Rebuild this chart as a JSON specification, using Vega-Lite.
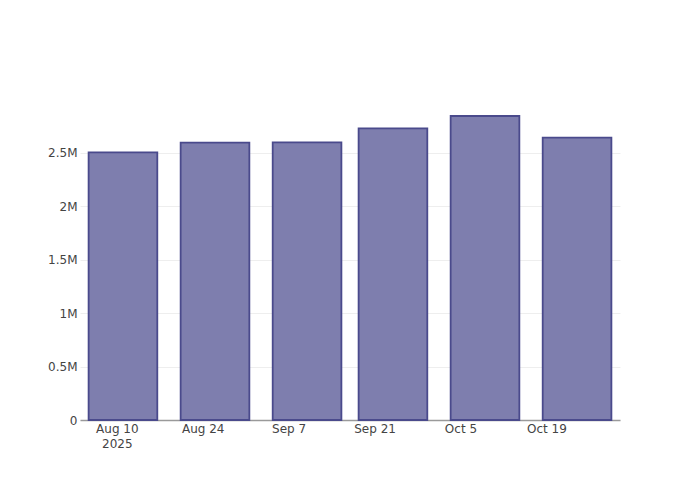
{
  "$schema": "https://vega.github.io/schema/vega-lite/v6.json",
  "width": 540,
  "height": 320,
  "autosize": {"type": "none"},
  "padding": {"left": 80, "top": 100, "right": 80, "bottom": 80},
  "background": "white",
  "config": {"view": {"stroke": null}, "font": "DejaVu Sans"},
  "data": {
    "values": [
      {"date": "2025-08-11", "value": 2506000},
      {"date": "2025-08-26", "value": 2597000},
      {"date": "2025-09-10", "value": 2600000},
      {"date": "2025-09-24", "value": 2731000},
      {"date": "2025-10-09", "value": 2846000},
      {"date": "2025-10-24", "value": 2643000}
    ]
  },
  "mark": {"type": "bar", "size": 68.7, "fill": "#7e7eae", "stroke": "#4a4a8c", "strokeWidth": 1.8},
  "encoding": {
    "x": {
      "field": "date",
      "type": "temporal",
      "scale": {
        "type": "utc",
        "padding": 0,
        "nice": false,
        "domain": [
          {"year": 2025, "month": 8, "date": 4, "utc": true},
          {"year": 2025, "month": 10, "date": 31, "utc": true}
        ]
      },
      "axis": {
        "title": null,
        "ticks": false,
        "grid": false,
        "domainColor": "#9a9a9a",
        "domainWidth": 1.5,
        "labelColor": "#444444",
        "labelFontSize": 12,
        "labelPadding": 3,
        "labelBaseline": "top",
        "labelLineHeight": 15,
        "labelFlush": false,
        "labelOverlap": false,
        "values": [
          {"year": 2025, "month": 8, "date": 10, "utc": true},
          {"year": 2025, "month": 8, "date": 24, "utc": true},
          {"year": 2025, "month": 9, "date": 7, "utc": true},
          {"year": 2025, "month": 9, "date": 21, "utc": true},
          {"year": 2025, "month": 10, "date": 5, "utc": true},
          {"year": 2025, "month": 10, "date": 19, "utc": true}
        ],
        "labelExpr": "utcdate(datum.value) == 10 && utcmonth(datum.value) == 7 ? ['Aug 10', '2025'] : utcFormat(datum.value, '%b %-d')"
      }
    },
    "y": {
      "field": "value",
      "type": "quantitative",
      "scale": {"domain": [0, 2996000], "nice": false, "zero": true},
      "axis": {
        "title": null,
        "domain": false,
        "ticks": false,
        "gridColor": "#eeeeee",
        "gridWidth": 1,
        "labelColor": "#444444",
        "labelFontSize": 12,
        "labelPadding": 3,
        "values": [0, 500000, 1000000, 1500000, 2000000, 2500000],
        "labelExpr": "datum.value == 0 ? '0' : format(datum.value / 1000000, '~g') + 'M'"
      }
    }
  }
}
